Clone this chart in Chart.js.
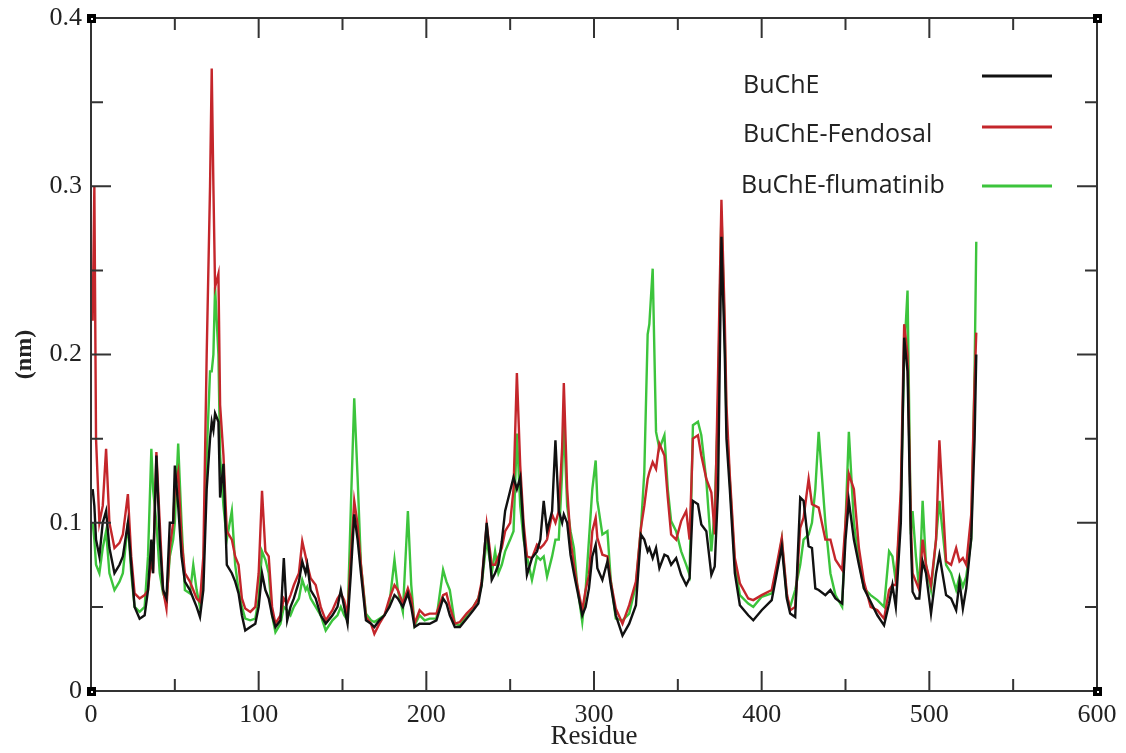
<!DOCTYPE html>
<html>
<head>
<meta charset="utf-8">
<title>RMSF BuChE</title>
<script src="https://cdn.jsdelivr.net/npm/chart.js@4.4.1/dist/chart.umd.min.js"></script>
<style>
  html, body { margin: 0; padding: 0; background: #fff; }
  #wrap { width: 1126px; height: 753px; position: relative; }
</style>
</head>
<body>
<div id="wrap"><canvas id="rmsf"></canvas></div>
<script>
// 残基番号（3系列で共通）
const residues = [
  1, 2, 3, 5, 7, 9, 11, 14, 17, 19,
  22, 24, 26, 29, 32, 34, 36, 37, 39, 41,
  43, 45, 47, 49, 50, 52, 54, 56, 59, 61,
  63, 65, 67, 69, 71, 72, 73, 74, 76, 77,
  79, 81, 84, 86, 88, 90, 92, 95, 98, 100,
  102, 104, 106, 108, 110, 113, 115, 117, 119, 121,
  124, 126, 128, 129, 131, 134, 137, 140, 144, 147,
  149, 151, 153, 155, 157, 159, 161, 164, 167, 169,
  172, 175, 178, 181, 183, 186, 189, 191, 193, 196,
  199, 202, 206, 210, 212, 214, 217, 220, 224, 228,
  231, 233, 236, 239, 241, 243, 245, 247, 250, 252,
  254, 256, 258, 260, 263, 266, 268, 270, 272, 275,
  277, 279, 281, 282, 284, 286, 288, 290, 293, 295,
  297, 299, 301, 302, 305, 308, 310, 313, 317, 321,
  325, 328, 330, 332, 333, 335, 337, 339, 342, 344,
  346, 349, 352, 355, 357, 359, 362, 364, 367, 370,
  372, 374, 376, 378, 379, 381, 384, 387, 392, 395,
  400, 406, 409, 412, 415, 417, 420, 423, 425, 428,
  430, 432, 434, 438, 441, 444, 448, 450, 452, 455,
  458, 461, 465, 469, 473, 476, 478, 480, 483, 485,
  487, 489, 490, 492, 494, 496, 498, 501, 504, 506,
  510, 513, 516, 518, 520, 522, 525, 527, 528
];

// RMSF (nm)
const bucheRmsf = [
  0.12, 0.11, 0.09, 0.08, 0.10, 0.107, 0.085, 0.07, 0.075, 0.08,
  0.10, 0.075, 0.05, 0.043, 0.045, 0.06, 0.09, 0.07, 0.14, 0.09,
  0.06, 0.055, 0.10, 0.10, 0.134, 0.11, 0.08, 0.065, 0.06, 0.055,
  0.05, 0.044, 0.06, 0.12, 0.15, 0.16, 0.155, 0.165, 0.16, 0.115,
  0.135, 0.075, 0.07, 0.065, 0.058, 0.045, 0.036, 0.038, 0.04, 0.05,
  0.07, 0.06, 0.055, 0.045, 0.038, 0.042, 0.079, 0.042, 0.05, 0.055,
  0.065, 0.077, 0.07, 0.075, 0.06, 0.055, 0.045, 0.04, 0.045, 0.05,
  0.06, 0.05, 0.04, 0.07, 0.105, 0.09, 0.07, 0.042, 0.04, 0.038,
  0.042, 0.045, 0.05, 0.057, 0.055, 0.05, 0.058, 0.05, 0.038, 0.04,
  0.04, 0.04, 0.042, 0.055, 0.052, 0.045, 0.038, 0.038, 0.043, 0.048,
  0.052, 0.063, 0.10, 0.066, 0.07, 0.075, 0.089, 0.107, 0.119, 0.127,
  0.12, 0.127, 0.095, 0.069, 0.079, 0.083, 0.09, 0.113, 0.095, 0.107,
  0.149, 0.107, 0.10, 0.105, 0.10, 0.081, 0.07, 0.06, 0.045, 0.05,
  0.061, 0.08, 0.087, 0.073, 0.066, 0.077, 0.063, 0.045, 0.033, 0.04,
  0.051, 0.093, 0.09, 0.083, 0.085, 0.079, 0.085, 0.073, 0.081, 0.08,
  0.075, 0.079, 0.069, 0.063, 0.067, 0.113, 0.111, 0.099, 0.095, 0.069,
  0.074, 0.12, 0.27, 0.20, 0.15, 0.12, 0.07, 0.051, 0.045, 0.042,
  0.048, 0.054, 0.07, 0.086, 0.055, 0.046, 0.044, 0.115, 0.113, 0.086,
  0.085, 0.061, 0.06, 0.057, 0.06, 0.055, 0.052, 0.09, 0.113, 0.09,
  0.075, 0.061, 0.053, 0.045, 0.039, 0.052, 0.063, 0.05, 0.10, 0.21,
  0.19, 0.09, 0.059, 0.055, 0.055, 0.077, 0.07, 0.046, 0.07, 0.081,
  0.057, 0.055, 0.048, 0.065, 0.049, 0.061, 0.091, 0.15, 0.20
];
const fendosalRmsf = [
  0.22, 0.30, 0.15, 0.10, 0.11, 0.144, 0.10, 0.085, 0.088, 0.093,
  0.117, 0.08, 0.058, 0.055, 0.057, 0.06, 0.08, 0.07, 0.142, 0.10,
  0.06, 0.049, 0.085, 0.10, 0.12, 0.13, 0.09, 0.07, 0.065, 0.06,
  0.055, 0.053, 0.08, 0.20, 0.30, 0.37, 0.30, 0.24, 0.248, 0.17,
  0.14, 0.095, 0.09, 0.08, 0.075, 0.055, 0.049, 0.047, 0.05, 0.07,
  0.119, 0.083, 0.08, 0.05, 0.04, 0.045, 0.055, 0.052, 0.057, 0.063,
  0.07, 0.089, 0.08, 0.075, 0.067, 0.063, 0.05, 0.042, 0.048, 0.055,
  0.058, 0.054, 0.045, 0.08, 0.113, 0.099, 0.075, 0.044, 0.04, 0.034,
  0.04, 0.045, 0.055, 0.063, 0.06, 0.052, 0.061, 0.055, 0.04, 0.048,
  0.045, 0.046, 0.046, 0.057, 0.058, 0.05, 0.04, 0.041, 0.046, 0.05,
  0.055, 0.065, 0.099, 0.075, 0.075, 0.08, 0.085, 0.095, 0.10, 0.12,
  0.189, 0.134, 0.10, 0.08, 0.079, 0.087, 0.085, 0.087, 0.09, 0.105,
  0.10, 0.107, 0.145, 0.183, 0.12, 0.09, 0.075, 0.063, 0.048, 0.06,
  0.069, 0.095, 0.103, 0.091, 0.081, 0.08, 0.065, 0.049, 0.04, 0.051,
  0.065, 0.097, 0.11, 0.126, 0.13, 0.136, 0.132, 0.147, 0.14, 0.115,
  0.093, 0.09, 0.101, 0.107, 0.09, 0.15, 0.152, 0.14, 0.126, 0.118,
  0.093, 0.189, 0.292, 0.22, 0.17, 0.128, 0.079, 0.064, 0.055, 0.054,
  0.057, 0.06, 0.075, 0.091, 0.058, 0.048, 0.05, 0.097, 0.103, 0.126,
  0.111, 0.11, 0.109, 0.09, 0.09, 0.078, 0.072, 0.10, 0.129, 0.12,
  0.085, 0.065, 0.05, 0.048, 0.043, 0.06, 0.063, 0.063, 0.12, 0.218,
  0.20, 0.10, 0.07, 0.065, 0.06, 0.09, 0.075, 0.063, 0.09, 0.149,
  0.077, 0.075, 0.085, 0.077, 0.079, 0.075, 0.105, 0.184, 0.213
];
const flumatinibRmsf = [
  0.10, 0.09, 0.075, 0.07, 0.085, 0.095, 0.07, 0.06, 0.065, 0.07,
  0.10, 0.07, 0.05, 0.047, 0.05, 0.08, 0.144, 0.12, 0.10, 0.07,
  0.058, 0.053, 0.08, 0.09, 0.10, 0.147, 0.10, 0.06, 0.058, 0.075,
  0.06, 0.05, 0.07, 0.14, 0.19, 0.19, 0.20, 0.24, 0.20, 0.14,
  0.11, 0.09, 0.107, 0.075, 0.06, 0.05, 0.043, 0.042, 0.043, 0.055,
  0.083, 0.078, 0.07, 0.045, 0.035, 0.04, 0.05, 0.048, 0.045, 0.05,
  0.055, 0.066, 0.06, 0.062, 0.055, 0.05, 0.045, 0.036, 0.042, 0.045,
  0.05, 0.045, 0.042, 0.11, 0.174, 0.127, 0.075, 0.046, 0.042, 0.041,
  0.043, 0.045, 0.052, 0.078, 0.06, 0.047, 0.107, 0.063, 0.039, 0.045,
  0.042, 0.043, 0.043, 0.072, 0.065, 0.06, 0.04, 0.039, 0.045, 0.05,
  0.055, 0.063, 0.09, 0.07, 0.083, 0.07, 0.075, 0.083, 0.09, 0.095,
  0.153, 0.11, 0.09, 0.08, 0.066, 0.08, 0.078, 0.08, 0.068, 0.08,
  0.09, 0.09, 0.13, 0.16, 0.11, 0.095, 0.085, 0.063, 0.041, 0.06,
  0.09, 0.12, 0.137, 0.113, 0.093, 0.095, 0.066, 0.043, 0.042, 0.046,
  0.063, 0.097, 0.13, 0.212, 0.218, 0.251, 0.154, 0.144, 0.152, 0.12,
  0.101, 0.095, 0.083, 0.075, 0.069, 0.158, 0.16, 0.152, 0.125, 0.083,
  0.108, 0.17, 0.285, 0.21, 0.16, 0.125, 0.075, 0.057, 0.052, 0.05,
  0.056, 0.058, 0.072, 0.09, 0.056, 0.05, 0.06, 0.075, 0.09, 0.093,
  0.10, 0.12, 0.154, 0.10, 0.07, 0.057, 0.05, 0.10, 0.154, 0.10,
  0.077, 0.061, 0.057, 0.054, 0.05, 0.083, 0.08, 0.065, 0.11, 0.20,
  0.238, 0.093, 0.107, 0.08, 0.06, 0.113, 0.075, 0.06, 0.09, 0.113,
  0.075, 0.07, 0.06, 0.068, 0.062, 0.068, 0.09, 0.19, 0.267
];

const seriesLabels = ["BuChE", "BuChE-Fendosal", "BuChE-flumatinib"];
const seriesColors = ["#111111", "#c4262b", "#3cc43c"];

// 枠線と内向きの目盛り（上下左右）、四隅の小さな四角
const framePlugin = {
  id: "frame",
  afterDatasetsDraw(chart) {
    const { ctx, chartArea: a, scales: { x, y } } = chart;
    ctx.save();
    ctx.strokeStyle = "#333";
    ctx.lineWidth = 2;
    ctx.strokeRect(a.left, a.top, a.right - a.left, a.bottom - a.top);
    ctx.beginPath();
    for (let v = x.min + 50; v < x.max; v += 50) {
      const px = x.getPixelForValue(v);
      const len = v % 100 === 0 ? 20 : 12;
      ctx.moveTo(px, a.bottom); ctx.lineTo(px, a.bottom - len);
      ctx.moveTo(px, a.top); ctx.lineTo(px, a.top + len);
    }
    for (let k = 1; k < 8; k++) {
      const v = k * 0.05;
      const py = y.getPixelForValue(v);
      const len = k % 2 === 0 ? 20 : 12;
      ctx.moveTo(a.left, py); ctx.lineTo(a.left + len, py);
      ctx.moveTo(a.right, py); ctx.lineTo(a.right - len, py);
    }
    ctx.stroke();
    for (const [cx, cy] of [[a.left, a.top], [a.right, a.top], [a.left, a.bottom], [a.right, a.bottom]]) {
      ctx.fillStyle = "#000";
      ctx.fillRect(cx - 4, cy - 4, 9, 9);
      ctx.fillStyle = "#fff";
      ctx.fillRect(cx, cy, 2, 2);
    }
    ctx.restore();
  }
};

// 凡例：文字が左、線見本が右
const legendPlugin = {
  id: "sideLegend",
  afterDraw(chart) {
    const { ctx } = chart;
    const rows = [
      { textX: 743, textY: 93, lineY: 76 },
      { textX: 743, textY: 142, lineY: 127 },
      { textX: 741, textY: 193, lineY: 186 }
    ];
    ctx.save();
    ctx.font = "25px 'Open Sans'";
    ctx.textBaseline = "alphabetic";
    chart.data.datasets.forEach((ds, i) => {
      const r = rows[i];
      ctx.fillStyle = "#222";
      ctx.fillText(ds.label, r.textX, r.textY);
      ctx.strokeStyle = ds.borderColor;
      ctx.lineWidth = 3;
      ctx.beginPath();
      ctx.moveTo(982, r.lineY);
      ctx.lineTo(1052, r.lineY);
      ctx.stroke();
    });
    ctx.restore();
  }
};

const allSeries = [bucheRmsf, fendosalRmsf, flumatinibRmsf];

new Chart(document.getElementById("rmsf"), {
  type: "line",
  data: {
    datasets: allSeries.map((vals, i) => ({
      label: seriesLabels[i],
      data: residues.map((r, j) => ({ x: r, y: vals[j] })),
      borderColor: seriesColors[i],
      borderWidth: 2.4,
      pointRadius: 0,
      tension: 0,
      fill: false
    }))
  },
  options: {
    responsive: true,
    maintainAspectRatio: false,
    animation: false,
    layout: { padding: { top: 18, right: 29, left: 0, bottom: 0 } },
    plugins: { legend: { display: false }, tooltip: { enabled: false } },
    scales: {
      x: {
        type: "linear",
        min: 0,
        max: 600,
        grid: { display: false, drawTicks: false },
        border: { display: false },
        ticks: { stepSize: 100, padding: 9, color: "#222", font: { family: "'Liberation Serif'", size: 26 } },
        title: { display: true, text: "Residue", color: "#222", padding: { top: 0, bottom: 0 }, font: { family: "'Liberation Serif'", size: 27 } },
        afterFit(s) { s.height = 62; }
      },
      y: {
        min: 0,
        max: 0.4,
        grid: { display: false, drawTicks: false },
        border: { display: false },
        ticks: { stepSize: 0.1, padding: 9, color: "#222", font: { family: "'Liberation Serif'", size: 26, lineHeight: 0.5 } },
        title: { display: true, text: "(nm)", color: "#222", padding: { top: 10, bottom: 0 }, font: { family: "'Liberation Serif'", size: 24, weight: "bold" } },
        afterFit(s) { s.width = 91; }
      }
    }
  },
  plugins: [framePlugin, legendPlugin]
});
</script>
</body>
</html>
